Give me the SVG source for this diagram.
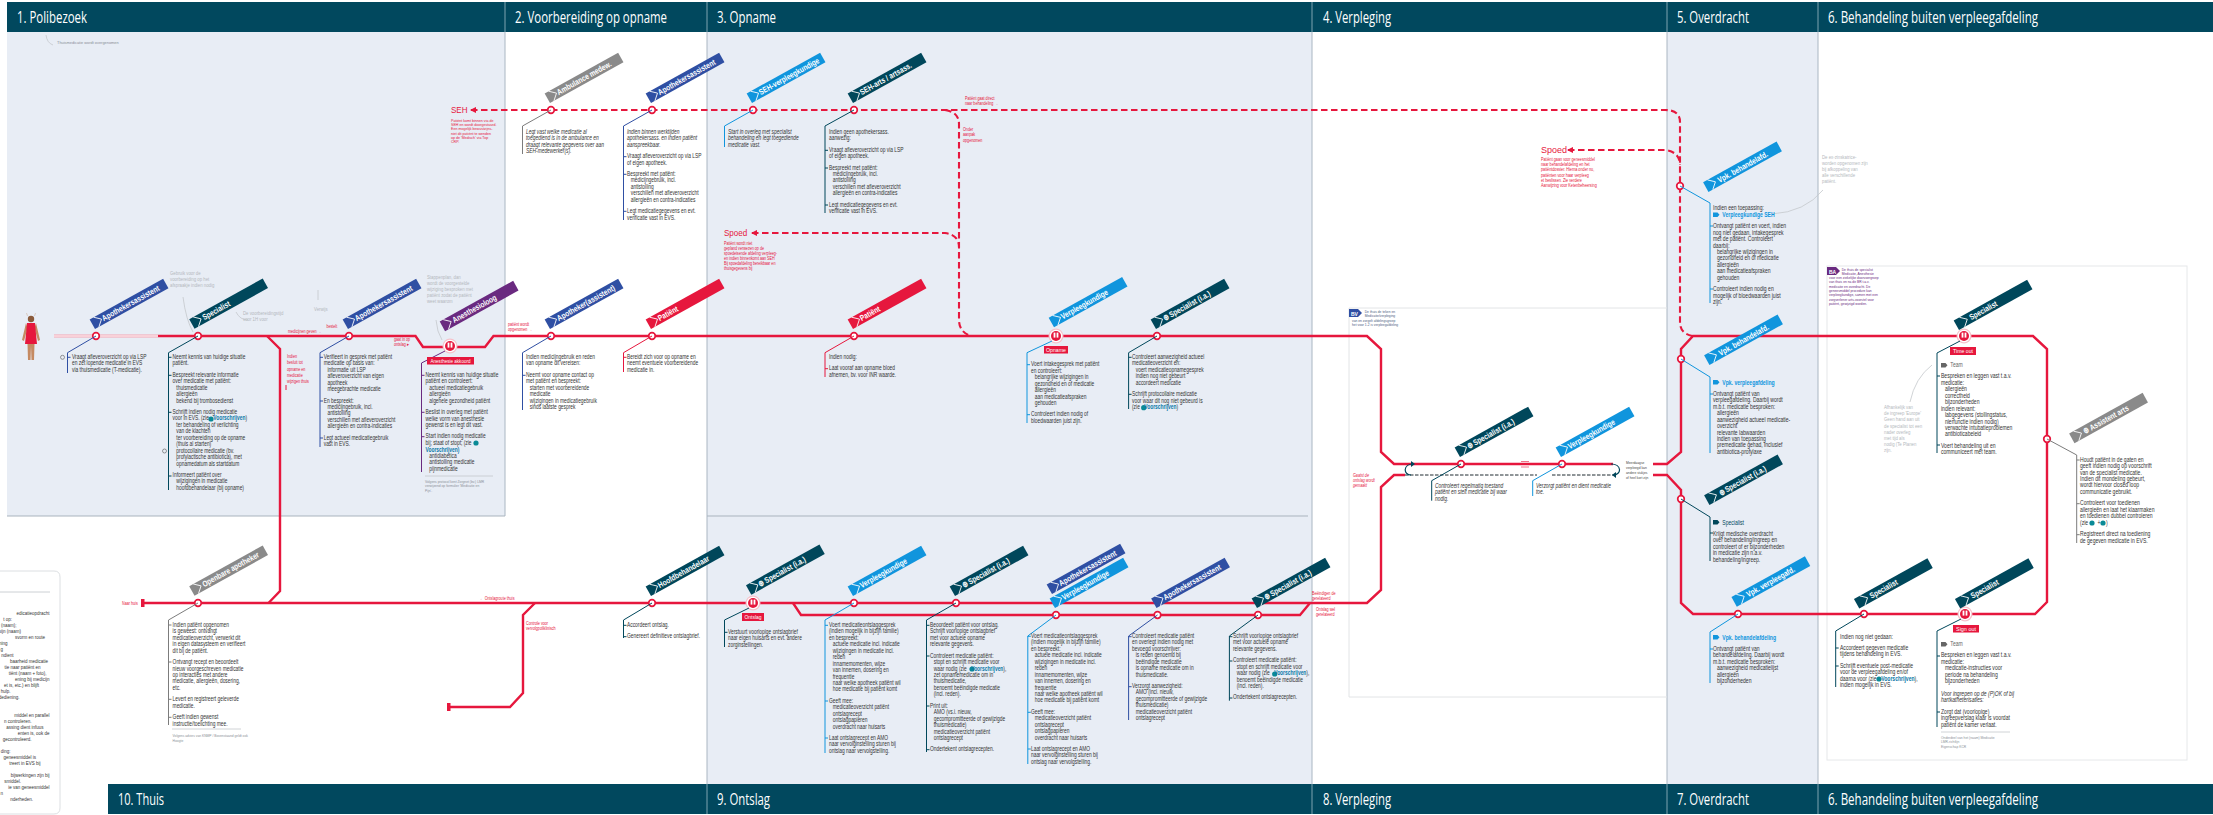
<svg xmlns="http://www.w3.org/2000/svg" width="2213" height="815" viewBox="0 0 2213 815">
<style>
text{font-family:"Liberation Sans",Arial,sans-serif}
.h{font-family:"Open Sans","Liberation Sans",sans-serif;font-size:15.5px;fill:#fff}
.t{font-size:6.5px;fill:#333}
.i{font-style:italic}
.vs{fill:#0b78a8;font-weight:bold}
.vb{fill:#0f95de;font-weight:bold}
.r{font-size:4.6px;fill:#e6173d}
.g{font-size:5.4px;fill:#b4b8bd}
.s{font-size:3.9px;fill:#8a8f96}
.k{font-size:3.9px;fill:#444}
.st{fill:#fff;stroke:#e6173d;stroke-width:1.7}
.l{fill:none;stroke:#e6173d;stroke-width:2.4}
.d{fill:none;stroke:#e6173d;stroke-width:2.1;stroke-dasharray:6.5 3.5}
.ld{fill:none;stroke-width:1}
.blue{stroke:#2f4fa3}.dark{stroke:#00475b}.nurse{stroke:#1095dd}.grey{stroke:#7c7c7c}.red{stroke:#e6173d}.pur{stroke:#6a2a80}
.fblue{fill:#2f4fa3}.fdark{fill:#00475b}.fnurse{fill:#1095dd}.fgrey{fill:#8a8a8a}.fred{fill:#e6173d}.fpur{fill:#6a2a80}
.bt{font-size:8.2px;font-weight:bold;fill:#fff;transform:translate(14px,-9.2px) scale(.8,1)}
.bo{transform:translate(36px,16.6px) scale(.8,1)}
.ch{fill:none;stroke:#fff;stroke-width:.8}
.lb{font-size:6.2px;fill:#fff;text-anchor:middle}
.ic{fill:#0a8a96}
.gl{fill:none;stroke:#c4c8cc;stroke-width:.8}
</style>
<defs>
<marker id="ar" viewBox="0 0 6 6" refX="1" refY="3" markerWidth="3" markerHeight="3" orient="auto"><path d="M0 3L6 0V6Z" fill="#e6173d"/></marker>
<g id="big"><circle r="7.5" fill="#f6c3cc"/><circle r="6.2" fill="#fff"/><circle r="5" fill="#e6173d"/><rect x="-2.4" y="-3.4" width="1.8" height="5" fill="#fff"/><rect x=".6" y="-3.4" width="1.8" height="5" fill="#fff"/></g>
<path id="chev" class="ch" d="M7-17.6L13-12.1L7-6.6"/>
<path id="chevo" class="ch" d="M27 8L33 13.5L27 19"/>
<path id="tag" d="M0 0H4.5L6.5 2.2L4.5 4.4H0Z"/>
</defs>

<g id="panels">
<rect x="7" y="32" width="498" height="484" fill="#e8edf5"/>
<rect x="707" y="32" width="605" height="752" fill="#e8edf5"/>
<rect x="1667" y="32" width="151" height="752" fill="#e8edf5"/>
<path d="M7 516H505M707 516H1308" stroke="#a9b3bd" fill="none"/>
<path d="M505 32V516M707 32V784M1312 32V784M1667 32V784M1818 32V784" stroke="#aab6c2" fill="none"/>
<path d="M1349 697V308H1667M1349 697H1667" fill="none" stroke="#e2e4e6"/>
<rect x="1827" y="266" width="360" height="494" fill="#fff" stroke="#e6e8ea"/>
</g>
<g id="header-top">
<rect x="7" y="2" width="2206" height="30" fill="#01485e"/>
<path d="M505 2V32M707 2V32M1312 2V32M1667 2V32M1818 2V32" stroke="#7ea3b0" fill="none"/>
<text class="h" x="17" y="23" textLength="70" lengthAdjust="spacingAndGlyphs">1. Polibezoek</text>
<text class="h" x="515" y="23" textLength="152" lengthAdjust="spacingAndGlyphs">2. Voorbereiding op opname</text>
<text class="h" x="717" y="23" textLength="59" lengthAdjust="spacingAndGlyphs">3. Opname</text>
<text class="h" x="1323" y="23" textLength="68" lengthAdjust="spacingAndGlyphs">4. Verpleging</text>
<text class="h" x="1677" y="23" textLength="72" lengthAdjust="spacingAndGlyphs">5. Overdracht</text>
<text class="h" x="1828" y="23" textLength="210" lengthAdjust="spacingAndGlyphs">6. Behandeling buiten verpleegafdeling</text>
</g>
<g id="header-bottom">
<rect x="108" y="784" width="2105" height="30" fill="#01485e"/>
<path d="M707 784V814M1312 784V814M1667 784V814M1818 784V814" stroke="#7ea3b0" fill="none"/>
<text class="h" x="118" y="805" textLength="46" lengthAdjust="spacingAndGlyphs">10. Thuis</text>
<text class="h" x="717" y="805" textLength="53" lengthAdjust="spacingAndGlyphs">9. Ontslag</text>
<text class="h" x="1323" y="805" textLength="68" lengthAdjust="spacingAndGlyphs">8. Verpleging</text>
<text class="h" x="1677" y="805" textLength="72" lengthAdjust="spacingAndGlyphs">7. Overdracht</text>
<text class="h" x="1828" y="805" textLength="210" lengthAdjust="spacingAndGlyphs">6. Behandeling buiten verpleegafdeling</text>
</g>

<g id="connectors">
<path d="M54 336H158" fill="none" stroke="#f3a3b2" stroke-width="3"/><path d="M54 336H158" fill="none" stroke="#fff" stroke-width="1"/>
<path class="l" d="M158 336H415.500L423 347H485L493.500 336H1367L1381 349V452L1394 464H1613"/>
<path class="l" d="M1653 464H1667L1681 452V349L1693 336H2033L2047 349V602L2035 614H1693L1681 603V490L1667 475H1653"/>
<path class="l" d="M1405 475H1394L1381 487V590L1367 603H144"/>
<path class="l" d="M793 603L801 615H1300L1310 603"/>
<path class="l" d="M535 603L523 615V693L510 707H449"/>
<path class="l" d="M267 336L280 349V591L268.500 603"/>
<path fill="#e6173d" d="M141 599h3.500v8h-3.500zM447 703h3.500v8h-3.500z"/>
<path class="d" marker-start="url(#ar)" d="M471 110H1665Q1680 110 1680 122V322Q1680 334 1693 336"/>
<path class="d" d="M945 110Q959 112 959 124V320Q959 332 971 336"/>
<path class="d" marker-start="url(#ar)" d="M752 233H945Q959 235 959 247"/>
<path class="d" marker-start="url(#ar)" d="M1568 150H1665Q1680 152 1680 165"/>
<path d="M1405 475H1537M1552 475H1613" fill="none" stroke="#1f2a30" stroke-width="1" stroke-dasharray="3.500 1.500"/>
<path d="M1413 464C1403 464 1403 475 1411 475M1611 464C1622 464 1622 475 1613 475" fill="none" stroke="#00475b" stroke-width="1.200"/>
<path fill="#00475b" d="M1411 461l4 3-4 3zM1616 472l-4 3 4 3z"/>
<path d="M1521 461.500h8M1521 467h8" stroke="#e6173d" stroke-width=".6" fill="none"/>
</g>

<g id="patient">
<circle cx="31" cy="319" r="3.200" fill="#8a5a3a"/>
<path d="M27.500 316l-1-3M34.500 316l1-3" stroke="#c9a48a" stroke-width=".5"/>
<path d="M26 323L22 340L24 341L27.500 328M36 323L40 340L38 341L34.500 328" fill="#c58a62"/>
<path d="M27 323H35L36 334L37 344H25L26 334Z" fill="#e6173d"/>
<path d="M27.500 344L28 360H30.500L31 346L31.500 360H34L34.500 344Z" fill="#c58a62"/>
</g>

<g id="legend">
<path d="M0 571H54Q60 571 60 577V808Q60 814 54 814H0" fill="#fff" stroke="#dcdfe2"/>
<path d="M0 592H50" stroke="#ccd0d4"/>
<text class="t" transform="translate(0 615) scale(.75 1)" style="font-size:6px" text-anchor="end"><tspan x="66" dy="0">edicatieopdracht</tspan><tspan x="16" dy="6">t op:</tspan><tspan x="22" dy="6">r (naam);</tspan><tspan x="28" dy="6">sijn (naam)</tspan><tspan x="60" dy="6">svorm en route</tspan><tspan x="10" dy="6">ning</tspan><tspan x="4" dy="6">g</tspan><tspan x="18" dy="6">ndient</tspan><tspan x="64" dy="6">baarheid medicatie</tspan><tspan x="54" dy="6">tie naar patiënt en</tspan><tspan x="62" dy="6">tiënt (naam + foto),</tspan><tspan x="66" dy="6">ening bij medicijn</tspan><tspan x="52" dy="6">et is, etc.) en blijft</tspan><tspan x="14" dy="6">hulp.</tspan><tspan x="26" dy="6">dediening.</tspan><tspan x="66" dy="18">middel en parallel</tspan><tspan x="42" dy="6">n controleren.</tspan><tspan x="58" dy="6">assing dient infuus</tspan><tspan x="66" dy="6">enten is, ook de</tspan><tspan x="42" dy="6">gecontroleerd.</tspan><tspan x="14" dy="12">ding:</tspan><tspan x="48" dy="6">geneesmiddel is</tspan><tspan x="54" dy="6">treert in EVS bij</tspan><tspan x="66" dy="12">bijwerkingen zijn bij</tspan><tspan x="28" dy="6">smiddel.</tspan><tspan x="66" dy="6">ie van geneesmiddel</tspan><tspan x="4" dy="6">n</tspan><tspan x="44" dy="6">nderheden.</tspan></text>
</g>

<g id="annotations">
<path class="gl" d="M46 35Q47 43 53 45"/>
<text class="s" x="57" y="44">Thuismedicatie wordt overgenomen</text>
<path class="gl" d="M183 297Q186 320 193 332M236 312Q240 320 248 320M318 290V300M436 320Q437 332 442 340M1772 214Q1805 212 1823 190M1910 402Q1915 378 1932 365"/>
<text class="g" transform="translate(170 275) scale(.8 1)"><tspan x="0">Gebruik voor de</tspan><tspan x="0" dy="6">voorbereiding op het</tspan><tspan x="0" dy="6">afspraakje indien nodig</tspan></text>
<text class="g" transform="translate(243 315) scale(.8 1)"><tspan x="0">De voorbereidingstijd</tspan><tspan x="0" dy="6">voor 1H voor</tspan></text>
<text class="g" transform="translate(314 311) scale(.8 1)">Verwijs</text>
<text class="g" transform="translate(427 279) scale(.8 1)"><tspan x="0">Stappenplan, dan</tspan><tspan x="0" dy="6">wordt de voorgestelde</tspan><tspan x="0" dy="6">wijziging besproken met</tspan><tspan x="0" dy="6">patiënt zodat de patiënt</tspan><tspan x="0" dy="6">weet waarom</tspan></text>
<text class="g" transform="translate(1822 159) scale(.8 1)"><tspan x="0">De ex-zinskatrice-</tspan><tspan x="0" dy="6">worden opgenomen zijn</tspan><tspan x="0" dy="6">bij afkoppeling van</tspan><tspan x="0" dy="6">alle verschillende</tspan><tspan x="0" dy="6">patiënt.</tspan></text>
<text class="g" transform="translate(1884 409) scale(.8 1)"><tspan x="0">Afhankelijk van</tspan><tspan x="0" dy="6.200">de ingreep 'Europe'</tspan><tspan x="0" dy="6.200">Geen hand aan uit</tspan><tspan x="0" dy="6.200">de specialist tot een</tspan><tspan x="0" dy="6.200">nader overleg</tspan><tspan x="0" dy="6.200">met tijd als</tspan><tspan x="0" dy="6.200">nodig (Te Planen</tspan><tspan x="0" dy="6.200">zijn.</tspan></text>
<text class="r" transform="translate(287 358) scale(.8 1)"><tspan x="0">Indien</tspan><tspan x="0" dy="6.300">besluit tot</tspan><tspan x="0" dy="6.300">opname en</tspan><tspan x="0" dy="6.300">medicatie</tspan><tspan x="0" dy="6.300">wijzigen thuis</tspan></text>
<path class="ld red" d="M286 385V390"/>
<text class="r" transform="translate(288 328) scale(.8 1)"><tspan x="48">bestelt</tspan><tspan x="0" dy="5">medicijnen geven →</tspan></text>
<text class="r" transform="translate(508 326) scale(.8 1)"><tspan x="0">patiënt wordt</tspan><tspan x="0" dy="5">opgenomen →</tspan></text>
<text class="r" transform="translate(394 341) scale(.8 1)"><tspan x="0">gaat in op</tspan><tspan x="0" dy="5">ontslag ▸</tspan></text>
<text class="r" transform="translate(965 100) scale(.8 1)"><tspan x="0">Patiënt gaat direct</tspan><tspan x="0" dy="5">naar behandeling →</tspan></text>
<text class="r" transform="translate(963 131) scale(.8 1)"><tspan x="0">Onder</tspan><tspan x="0" dy="5.500">aanpak</tspan><tspan x="0" dy="5.500">opgenomen</tspan></text>
<text class="r" transform="translate(122 605) scale(.8 1)">Naar huis</text>
<text class="r" transform="translate(480 600) scale(.8 1)">← Ontslagroute thuis</text>
<text class="r" transform="translate(526 625) scale(.8 1)"><tspan x="0">Controle voor</tspan><tspan x="0" dy="5.500">vervolgpoliklinisch</tspan></text>
<text class="r" transform="translate(1312 595) scale(.8 1)"><tspan x="0">Beëindigen de</tspan><tspan x="0" dy="5">gerelateerd</tspan></text>
<text class="r" transform="translate(1316 611) scale(.8 1)"><tspan x="0">Ontslag wel</tspan><tspan x="0" dy="5">gerelateerd</tspan></text>
<text class="r i" transform="translate(1353 477) scale(.8 1)"><tspan x="0">Gaatst de</tspan><tspan x="0" dy="5.200">ontslag wordt</tspan><tspan x="0" dy="5.200">gemaakt</tspan></text>
<text class="k" transform="translate(1626 464) scale(.85 1)"><tspan x="0">Meerdaagse</tspan><tspan x="0" dy="5">verpleegd kan</tspan><tspan x="0" dy="5">andere stukjes</tspan><tspan x="0" dy="5">of heel kort zijn</tspan></text>
<g id="tag-bv"><use href="#tag" class="fblue" transform="translate(1349 309) scale(2 1.800)"/><text x="1351" y="315.500" font-size="5" fill="#fff" font-weight="bold">BV</text>
<text class="k" transform="translate(1352 313) scale(.85 1)" style="fill:#4a5a80"><tspan x="15">De thuis de teken en</tspan><tspan x="15" dy="4.300">Medicatie/verpleging</tspan><tspan x="0" dy="4.300">van en zorgelt afdelingsgroep</tspan><tspan x="0" dy="4.300">het voor 1-2 is verpleegafdeling</tspan></text></g>
<g id="tag-ba"><use href="#tag" class="fpur" transform="translate(1827 267) scale(2 1.800)"/><text x="1829" y="273.500" font-size="5" fill="#fff" font-weight="bold">BA</text>
<text class="k" transform="translate(1829 270.500) scale(.85 1)" style="fill:#6a2a80"><tspan x="15">De thuis de specialist</tspan><tspan x="15" dy="4.300">Medicatie, Anesthesie</tspan><tspan x="0" dy="4.300">voor een ziekelijke doorvoergroep</tspan><tspan x="0" dy="4.300">van thuis en na de BR t.a.v.</tspan><tspan x="0" dy="4.300">medicatie en overdracht. De</tspan><tspan x="0" dy="4.300">geneesmiddel procedure kan</tspan><tspan x="0" dy="4.300">verpleegkundige, samen met een</tspan><tspan x="0" dy="4.300">zorgverlener arts-voorstel voor</tspan><tspan x="0" dy="4.300">patiënt, gewijzigd worden.</tspan></text></g>
<text font-size="9.500" fill="#e6173d" transform="translate(451 113) scale(.85 1)">SEH</text>
<text class="r" transform="translate(451 122) scale(.82 1)" style="font-size:4.400px"><tspan x="0">Patiënt komt binnen via de</tspan><tspan x="0" dy="4.200">SEH en wordt doorgestuurd.</tspan><tspan x="0" dy="4.200">Een mogelijk bewustzijns-</tspan><tspan x="0" dy="4.200">niet dit patiënt te wenden</tspan><tspan x="0" dy="4.200">op de 'Medisch' via Top</tspan><tspan x="0" dy="4.200">CRP.</tspan></text>
<text font-size="9.500" fill="#e6173d" transform="translate(724 236) scale(.85 1)">Spoed</text>
<text class="r" transform="translate(724 245) scale(.8 1)"><tspan x="0">Patiënt wordt niet</tspan><tspan x="0" dy="5">gepland verwezen op de</tspan><tspan x="0" dy="5">spoedeisende afdeling verpleeg-</tspan><tspan x="0" dy="5">en indien binnenkomt aan SEH</tspan><tspan x="0" dy="5">Bij spoedafdeling bereikbaar en</tspan><tspan x="0" dy="5">thuisgegevens bij</tspan></text>
<text font-size="9.500" fill="#e6173d" transform="translate(1541 153) scale(.95 1)">Spoed</text>
<text class="r" transform="translate(1541 161) scale(.82 1)"><tspan x="0">Patiënt gaan voor geneesmiddel</tspan><tspan x="0" dy="5.200">naar behandelafdeling en het</tspan><tspan x="0" dy="5.200">patiëntdossier. Hierna onder nu,</tspan><tspan x="0" dy="5.200">patiënten voor haar verpleeg</tspan><tspan x="0" dy="5.200">et beslissen. Zie verdere</tspan><tspan x="0" dy="5.200">Aanwijzing voor Ketenbeheersing</tspan></text>
</g>

<g id="n-ambulance"><circle class="st" cx="551" cy="110" r="3.300"/>
<path class="ld grey" d="M551 110L522.500 126V154"/>
<g transform="translate(551 110) rotate(-29)"><rect class="fgrey" x="2.500" y="-17.600" width="84" height="11"/><use href="#chev"/><text class="bt">Ambulance medew.</text></g>
<text class="t i" transform="translate(526 134) scale(.75 1)"><tspan x="0">Legt vast welke medicatie al</tspan><tspan x="0" dy="6.450">toegediend is in de ambulance en</tspan><tspan x="0" dy="6.450">draagt relevante gegevens over aan</tspan><tspan x="0" dy="6.450">SEH-medewerker(s).</tspan></text></g>

<g id="n-apo-seh"><circle class="st" cx="652" cy="110" r="3.300"/>
<path class="ld blue" d="M652 110L623.500 126V220M623.500 156.700h3M623.500 174.300h3M623.500 211.300h3"/>
<g transform="translate(652 110) rotate(-29)"><rect class="fblue" x="2.500" y="-17.600" width="84" height="11"/><use href="#chev"/><text class="bt">Apothekersassistent</text></g>
<text class="t" transform="translate(627 134) scale(.75 1)"><tspan class="i" x="0">Indien binnen werktijden</tspan><tspan class="i" x="0" dy="6.450">apothekersass. en indien patiënt</tspan><tspan class="i" x="0" dy="6.450">aanspreekbaar.</tspan><tspan x="0" dy="11.350">Vraagt afleveroverzicht op via LSP</tspan><tspan x="0" dy="6.450">of eigen apotheek.</tspan><tspan x="0" dy="11.350">Bespreekt met patiënt:</tspan><tspan x="5" dy="6.450">medicijngebruik, incl.</tspan><tspan x="5" dy="6.450">antistolling</tspan><tspan x="5" dy="6.450">verschillen met afleveroverzicht</tspan><tspan x="5" dy="6.450">allergieën en contra-indicaties</tspan><tspan x="0" dy="11.350">Legt medicatiegegevens en evt.</tspan><tspan x="0" dy="6.450">verificatie vast in EVS.</tspan></text></g>

<g id="n-seh-vpk"><circle class="st" cx="753" cy="110" r="3.300"/>
<path class="ld nurse" d="M753 110L724.500 126V147"/>
<g transform="translate(753 110) rotate(-29)"><rect class="fnurse" x="2.500" y="-17.600" width="84" height="11"/><use href="#chev"/><text class="bt">SEH-verpleegkundige</text></g>
<text class="t i" transform="translate(728 134) scale(.75 1)"><tspan x="0">Start in overleg met specialist</tspan><tspan x="0" dy="6.450">behandeling en legt toegediende</tspan><tspan x="0" dy="6.450">medicatie vast.</tspan></text></g>

<g id="n-seh-arts"><circle class="st" cx="854" cy="110" r="3.300"/>
<path class="ld dark" d="M854 110L825 126V213M825 150.300h3M825 168h3M825 205h3"/>
<g transform="translate(854 110) rotate(-29)"><rect class="fdark" x="2.500" y="-17.600" width="84" height="11"/><use href="#chev"/><text class="bt">SEH-arts / artsass.</text></g>
<text class="t" transform="translate(829 134) scale(.75 1)"><tspan x="0">Indien geen apothekersass.</tspan><tspan x="0" dy="6.450">aanwezig:</tspan><tspan x="0" dy="11.350">Vraagt afleveroverzicht op via LSP</tspan><tspan x="0" dy="6.450">of eigen apotheek.</tspan><tspan x="0" dy="11.350">Bespreekt met patiënt:</tspan><tspan x="5" dy="6.450">medicijngebruik, incl.</tspan><tspan x="5" dy="6.450">antistolling</tspan><tspan x="5" dy="6.450">verschillen met afleveroverzicht</tspan><tspan x="5" dy="6.450">allergieën en contra-indicaties</tspan><tspan x="0" dy="11.350">Legt medicatiegegevens en evt.</tspan><tspan x="0" dy="6.450">verificatie vast in EVS.</tspan></text></g>

<g id="n-apo1"><circle class="st" cx="96" cy="336" r="3.300"/>
<path class="ld blue" d="M96 336L67.500 352.700V373M67.500 357.300h3"/>
<circle cx="62.500" cy="357.300" r="2" fill="none" stroke="#555" stroke-width=".6"/>
<g transform="translate(96 336) rotate(-29)"><rect class="fblue" x="2.500" y="-17.600" width="84" height="11"/><use href="#chev"/><text class="bt">Apothekersassistent</text></g>
<text class="t" transform="translate(72 359) scale(.75 1)"><tspan x="0">Vraagt afleveroverzicht op via LSP</tspan><tspan x="0" dy="6.450">en zet lopende medicatie in EVS</tspan><tspan x="0" dy="6.450">via thuismedicatie (T-medicatie).</tspan></text></g>

<g id="n-spec1"><circle class="st" cx="198" cy="336" r="3.300"/>
<path class="ld dark" d="M198 336L168.500 352.700V490M168.500 357.300h3M168.500 375.300h3M168.500 412.300h3M168.500 476h3"/>
<circle cx="164.500" cy="451" r="2" fill="none" stroke="#555" stroke-width=".6"/>
<circle class="ic" cx="211" cy="419" r="2.600"/>
<g transform="translate(198 336) rotate(-29)"><rect class="fdark" x="0.500" y="-19" width="84" height="11"/><path class="ch" d="M5-19L11-13.500L5-8"/><text class="bt" style="transform:translate(13px,-10.800px) scale(.8,1)">Specialist</text></g>
<text class="t" transform="translate(172.600 359) scale(.75 1)"><tspan x="0">Neemt kennis van huidige situatie</tspan><tspan x="0" dy="6.450">patiënt.</tspan><tspan x="0" dy="11.350">Bespreekt relevante informatie</tspan><tspan x="0" dy="6.450">over medicatie met patiënt:</tspan><tspan x="5" dy="6.450">thuismedicatie</tspan><tspan x="5" dy="6.450">allergieën</tspan><tspan x="5" dy="6.450">bekend bij trombosedienst</tspan><tspan x="0" dy="11.350">Schrijft indien nodig medicatie</tspan><tspan x="0" dy="6.450">voor in EVS. (zie</tspan><tspan class="vs" dx="6">Voorschrijven</tspan><tspan>)</tspan><tspan x="5" dy="6.450">ter behandeling of verlichting</tspan><tspan x="5" dy="6.450">van de klachten</tspan><tspan x="5" dy="6.450">ter voorbereiding op de opname</tspan><tspan x="5" dy="6.450">(thuis al starten)</tspan><tspan x="5" dy="6.450">protocollaire medicatie (bv.</tspan><tspan x="5" dy="6.450">profylactische antibiotica), met</tspan><tspan x="5" dy="6.450">opnamedatum als startdatum</tspan><tspan x="0" dy="11.350">Informeert patiënt over</tspan><tspan x="5" dy="6.450">wijzigingen in medicatie</tspan><tspan x="5" dy="6.450">hoofdbehandelaar (bij opname)</tspan></text></g>

<g id="n-apo2"><circle class="st" cx="349" cy="336" r="3.300"/>
<path class="ld blue" d="M349 336L320 352.700V447M320 357.300h3M320 401h3M320 438h3"/>
<g transform="translate(349 336) rotate(-29)"><rect class="fblue" x="2.500" y="-17.600" width="84" height="11"/><use href="#chev"/><text class="bt">Apothekersassistent</text></g>
<text class="t" transform="translate(323.700 359) scale(.75 1)"><tspan x="0">Verifieert in gesprek met patiënt</tspan><tspan x="0" dy="6.450">medicatie op basis van:</tspan><tspan x="5" dy="6.450">informatie uit LSP</tspan><tspan x="5" dy="6.450">afleveroverzicht van eigen</tspan><tspan x="5" dy="6.450">apotheek</tspan><tspan x="5" dy="6.450">meegebrachte medicatie</tspan><tspan x="0" dy="11.350">En bespreekt:</tspan><tspan x="5" dy="6.450">medicijngebruik, incl.</tspan><tspan x="5" dy="6.450">antistolling</tspan><tspan x="5" dy="6.450">verschillen met afleveroverzicht</tspan><tspan x="5" dy="6.450">allergieën en contra-indicaties</tspan><tspan x="0" dy="11.350">Legt actueel medicatiegebruik</tspan><tspan x="0" dy="6.450">vast in EVS.</tspan></text></g>

<g id="n-anes"><use href="#big" x="450" y="346"/>
<path class="ld pur" d="M445 351L421.500 363V472M421.500 375.300h3M421.500 412.300h3M421.500 436.700h3"/>
<rect class="fred" x="427" y="357" width="47" height="7.500"/><text class="lb" x="450.500" y="363" textLength="40" lengthAdjust="spacingAndGlyphs">Anesthesie akkoord</text>
<circle class="ic" cx="476" cy="443" r="2.600"/>
<g transform="translate(450 336) rotate(-29)"><rect class="fpur" x="-2" y="-17.600" width="84" height="11"/><path class="ch" d="M2-17.600L8-12.100L2-6.600"/><text class="bt" style="transform:translate(10px,-9.200px) scale(.8,1)">Anesthesioloog</text></g>
<text class="t" transform="translate(425.600 377) scale(.75 1)"><tspan x="0">Neemt kennis van huidige situatie</tspan><tspan x="0" dy="6.450">patiënt en controleert:</tspan><tspan x="5" dy="6.450">actueel medicatiegebruik</tspan><tspan x="5" dy="6.450">allergieën</tspan><tspan x="5" dy="6.450">algehele gezondheid patiënt</tspan><tspan x="0" dy="11.350">Beslist in overleg met patiënt</tspan><tspan x="0" dy="6.450">welke vorm van anesthesie</tspan><tspan x="0" dy="6.450">gewenst is en legt dit vast.</tspan><tspan x="0" dy="11.350">Start indien nodig medicatie</tspan><tspan x="0" dy="6.450">bij; staat of stopt; (zie</tspan><tspan class="vs" x="0" dy="6.700">Voorschrijven)</tspan><tspan x="5" dy="6.450">antidiabetica</tspan><tspan x="5" dy="6.450">antistolling medicatie</tspan><tspan x="5" dy="6.450">pijnmedicatie</tspan></text>
<path class="gl" d="M425 476H493"/>
<text class="s" transform="translate(425 483) scale(.85 1)"><tspan x="0">Volgens protocol kent Zorgnet (bv.) LMR</tspan><tspan x="0" dy="4.500">verwijzend op formulier 'Medicatie en</tspan><tspan x="0" dy="4.500">Pijn'.</tspan></text></g>

<g id="n-apo3"><circle class="st" cx="551" cy="336" r="3.300"/>
<path class="ld blue" d="M551 336L522.500 352.700V410M522.500 375.300h3"/>
<g transform="translate(551 336) rotate(-29)"><rect class="fblue" x="2.500" y="-17.600" width="84" height="11"/><use href="#chev"/><text class="bt">Apotheker(assistent)</text></g>
<text class="t" transform="translate(526 359) scale(.75 1)"><tspan x="0">Indien medicijngebruik en reden</tspan><tspan x="0" dy="6.450">van opname dit vereisen:</tspan><tspan x="0" dy="11.350">Neemt voor opname contact op</tspan><tspan x="0" dy="6.450">met patiënt en bespreekt:</tspan><tspan x="5" dy="6.450">starten met voorbereidende</tspan><tspan x="5" dy="6.450">medicatie</tspan><tspan x="5" dy="6.450">wijzigingen in medicatiegebruik</tspan><tspan x="5" dy="6.450">sinds laatste gesprek</tspan></text></g>

<g id="n-pat1"><circle class="st" cx="652" cy="336" r="3.300"/>
<path class="ld red" d="M652 336L623.500 352.700V372M623.500 357.300h3"/>
<g transform="translate(652 336) rotate(-29)"><rect class="fred" x="2.500" y="-17.600" width="84" height="11"/><use href="#chev"/><text class="bt">Patiënt</text></g>
<text class="t" transform="translate(627 359) scale(.75 1)"><tspan x="0">Bereidt zich voor op opname en</tspan><tspan x="0" dy="6.450">neemt eventuele voorbereidende</tspan><tspan x="0" dy="6.450">medicatie in.</tspan></text></g>

<g id="n-pat2"><circle class="st" cx="854" cy="336" r="3.300"/>
<path class="ld red" d="M854 336L825 352.700V377M825 368.700h3"/>
<g transform="translate(854 336) rotate(-29)"><rect class="fred" x="2.500" y="-17.600" width="84" height="11"/><use href="#chev"/><text class="bt">Patiënt</text></g>
<text class="t" transform="translate(829 359) scale(.75 1)"><tspan x="0">Indien nodig:</tspan><tspan x="0" dy="11.350">Laat vooraf aan opname bloed</tspan><tspan x="0" dy="6.450">afnemen, bv. voor INR waarde.</tspan></text></g>

<g id="n-vpk1"><use href="#big" x="1056" y="336"/>
<path class="ld nurse" d="M1052 341L1027 352.700V423M1027 364.700h3M1027 414.700h3"/>
<rect class="fred" x="1044" y="346" width="24" height="7.500"/><text class="lb" x="1056" y="352" textLength="20" lengthAdjust="spacingAndGlyphs">Opname</text>
<g transform="translate(1056 336) rotate(-29)"><rect class="fnurse" x="2.500" y="-19.600" width="84" height="11"/><path class="ch" d="M7-19.600L13-14.100L7-8.600"/><text class="bt" style="transform:translate(14px,-11.200px) scale(.8,1)">Verpleegkundige</text></g>
<text class="t" transform="translate(1031 366.300) scale(.75 1)"><tspan x="0">Voert intakegesprek met patiënt</tspan><tspan x="0" dy="6.450">en controleert:</tspan><tspan x="5" dy="6.450">belangrijke wijzigingen in</tspan><tspan x="5" dy="6.450">gezondheid en of medicatie</tspan><tspan x="5" dy="6.450">allergieën</tspan><tspan x="5" dy="6.450">aan medicatieafspraken</tspan><tspan x="5" dy="6.450">gehouden</tspan><tspan x="0" dy="11.350">Controleert indien nodig of</tspan><tspan x="0" dy="6.450">bloedwaarden juist zijn.</tspan></text></g>

<g id="n-spec2"><circle class="st" cx="1157" cy="336" r="3.300"/>
<path class="ld dark" d="M1157 336L1128.600 352.700V409M1128.600 357.300h3M1128.600 394.300h3"/>
<circle class="ic" cx="1143.700" cy="407.700" r="2.600"/>
<g transform="translate(1157 336) rotate(-29)"><rect class="fdark" x="2.500" y="-17.600" width="84" height="11"/><use href="#chev"/><text class="bt">⊕ Specialist (i.a.)</text></g>
<text class="t" transform="translate(1132 359) scale(.75 1)"><tspan x="0">Controleert aanwezigheid actueel</tspan><tspan x="0" dy="6.450">medicatieoverzicht en:</tspan><tspan x="5" dy="6.450">voert medicatieopnamegesprek</tspan><tspan x="5" dy="6.450">indien nog niet gebeurt</tspan><tspan x="5" dy="6.450">accordeert medicatie</tspan><tspan x="0" dy="11.350">Schrijft protocollaire medicatie</tspan><tspan x="0" dy="6.450">voor waar dit nog niet gebeurd is</tspan><tspan x="0" dy="6.450">(zie</tspan><tspan class="vs" dx="6">Voorschrijven</tspan><tspan>)</tspan></text></g>

<g id="n-spec3"><circle class="st" cx="1461" cy="464" r="3.300"/>
<path class="ld dark" d="M1461 464L1431.700 480.700V500.700"/>
<g transform="translate(1461 464) rotate(-29)"><rect class="fdark" x="2.500" y="-17.600" width="84" height="11"/><use href="#chev"/><text class="bt">⊕ Specialist (i.a.)</text></g>
<text class="t i" transform="translate(1435 488) scale(.75 1)"><tspan x="0">Controleert regelmatig toestand</tspan><tspan x="0" dy="6.450">patiënt en stelt medicatie bij waar</tspan><tspan x="0" dy="6.450">nodig.</tspan></text></g>
<g id="n-vpk2"><circle class="st" cx="1562" cy="464" r="3.300"/>
<path class="ld nurse" d="M1562 464L1532.700 480.700V496"/>
<g transform="translate(1562 464) rotate(-29)"><rect class="fnurse" x="2.500" y="-17.600" width="84" height="11"/><use href="#chev"/><text class="bt">Verpleegkundige</text></g>
<text class="t i" transform="translate(1536 488) scale(.75 1)"><tspan x="0">Verzorgt patiënt en dient medicatie</tspan><tspan x="0" dy="6.450">toe.</tspan></text></g>

<g id="n-vb1"><circle class="st" cx="1680" cy="186" r="3.300"/>
<path class="ld nurse" d="M1680 186L1710 203V303M1710 226h3M1710 289h3"/>
<g transform="translate(1680 186) rotate(-29)"><rect class="fnurse" x="22" y="8" width="84" height="11"/><use href="#chevo"/><text class="bt bo">Vpk. behandelafd.</text></g>
<use href="#tag" class="fnurse" transform="translate(1713 212.500)"/>
<text class="t" transform="translate(1713 210) scale(.78 1)"><tspan x="0">Indien een toepassing:</tspan><tspan class="vb" x="12" dy="6.800">Verpleegkundige SEH</tspan><tspan x="0" dy="11.400">Ontvangt patiënt en voert, indien</tspan><tspan x="0" dy="6.450">nog niet gedaan, intakegesprek</tspan><tspan x="0" dy="6.450">met de patiënt. Controleert</tspan><tspan x="0" dy="6.450">daarbij:</tspan><tspan x="5" dy="6.450">belangrijke wijzigingen in</tspan><tspan x="5" dy="6.450">gezondheid en of medicatie</tspan><tspan x="5" dy="6.450">allergieën</tspan><tspan x="5" dy="6.450">aan medicatieafspraken</tspan><tspan x="5" dy="6.450">gehouden</tspan><tspan x="0" dy="11.350">Controleert indien nodig en</tspan><tspan x="0" dy="6.450">mogelijk of bloedwaarden juist</tspan><tspan x="0" dy="6.450">zijn.</tspan></text></g>

<g id="n-vb2"><circle class="st" cx="1681" cy="359" r="3.300"/>
<path class="ld nurse" d="M1681 359L1710 377V453M1710 394h3"/>
<g transform="translate(1681 359) rotate(-29)"><rect class="fnurse" x="22" y="8" width="84" height="11"/><use href="#chevo"/><text class="bt bo">Vpk. behandelafd.</text></g>
<use href="#tag" class="fnurse" transform="translate(1713 380)"/>
<text class="t" transform="translate(1713 384.500) scale(.78 1)"><tspan class="vb" x="12">Vpk. verpleegafdeling</tspan><tspan x="0" dy="11.400">Ontvangt patiënt van</tspan><tspan x="0" dy="6.450">verpleegafdeling. Daarbij wordt</tspan><tspan x="0" dy="6.450">m.b.t. medicatie besproken:</tspan><tspan x="5" dy="6.450">allergieën</tspan><tspan x="5" dy="6.450">aanwezigheid actueel medicatie-</tspan><tspan x="5" dy="6.450">overzicht</tspan><tspan x="5" dy="6.450">relevante labwaarden</tspan><tspan x="5" dy="6.450">indien van toepassing</tspan><tspan x="5" dy="6.450">premedicatie gehad, inclusief</tspan><tspan x="5" dy="6.450">antibiotica-profylaxe</tspan></text></g>

<g id="n-spec4"><circle class="st" cx="1681" cy="499" r="3.300"/>
<path class="ld dark" d="M1681 499L1710 517V561M1710 533h3"/>
<g transform="translate(1681 499) rotate(-29)"><rect class="fdark" x="22" y="8" width="84" height="11"/><use href="#chevo"/><text class="bt bo">⊕ Specialist (i.a.)</text></g>
<use href="#tag" class="fdark" transform="translate(1713 520)"/>
<text class="t" transform="translate(1713 524.500) scale(.78 1)"><tspan fill="#00475b" x="12">Specialist</tspan><tspan x="0" dy="11.400">Krijgt medische overdracht</tspan><tspan x="0" dy="6.450">over behandeling/ingreep en</tspan><tspan x="0" dy="6.450">controleert of er bijzonderheden</tspan><tspan x="0" dy="6.450">in medicatie zijn n.a.v.</tspan><tspan x="0" dy="6.450">behandeling/ingreep.</tspan></text></g>

<g id="n-vb3"><circle class="st" cx="1738" cy="614" r="3.300"/>
<path class="ld nurse" d="M1738 614L1710 632V683M1710 649h3"/>
<g transform="translate(1738 614) rotate(-29)"><rect class="fnurse" x="2.500" y="-18" width="84" height="11"/><path class="ch" d="M8-18L14-12.500L8-7"/><text class="bt" style="transform:translate(17px,-9.600px) scale(.8,1)">Vpk. verpleegafd.</text></g>
<use href="#tag" class="fnurse" transform="translate(1713 635)"/>
<text class="t" transform="translate(1713 639.500) scale(.78 1)"><tspan class="vb" x="12">Vpk. behandelafdeling</tspan><tspan x="0" dy="11.400">Ontvangt patiënt van</tspan><tspan x="0" dy="6.450">behandelafdeling. Daarbij wordt</tspan><tspan x="0" dy="6.450">m.b.t. medicatie besproken:</tspan><tspan x="5" dy="6.450">aanwezigheid medicatielijst</tspan><tspan x="5" dy="6.450">allergieën</tspan><tspan x="5" dy="6.450">bijzonderheden</tspan></text></g>

<g id="n-timeout"><use href="#big" x="1964" y="336"/>
<path class="ld dark" d="M1960 341L1937 353V453M1937 376h3M1937 445h3"/>
<rect class="fred" x="1950" y="347" width="26" height="8"/><text class="lb" x="1963" y="353.300" textLength="20" lengthAdjust="spacingAndGlyphs">Time out</text>
<g transform="translate(1964 336) rotate(-29)"><rect class="fdark" x="-1.500" y="-18.600" width="84" height="11"/><path class="ch" d="M5-18.600L11-13.100L5-7.600"/><text class="bt" style="transform:translate(14px,-10.200px) scale(.8,1)">Specialist</text></g>
<use href="#tag" fill="#666" transform="translate(1941 363)"/>
<text class="t" transform="translate(1941 367) scale(.78 1)"><tspan fill="#666" x="12">Team</tspan><tspan x="0" dy="11.400">Bespreken en leggen vast t.a.v.</tspan><tspan x="0" dy="6.450">medicatie:</tspan><tspan x="5" dy="6.450">allergieën</tspan><tspan x="5" dy="6.450">correctheid</tspan><tspan x="5" dy="6.450">bijzonderheden</tspan><tspan x="0" dy="6.450">indien relevant:</tspan><tspan x="5" dy="6.450">labgegevens (stollingstatus,</tspan><tspan x="5" dy="6.450">nierfunctie indien nodig)</tspan><tspan x="5" dy="6.450">verwachte intubatieproblemen</tspan><tspan x="5" dy="6.450">antibioticabeleid</tspan><tspan x="0" dy="11.350">Voert behandeling uit en</tspan><tspan x="0" dy="6.450">communiceert met team.</tspan></text></g>

<g id="n-assist"><circle class="st" cx="2047" cy="439" r="3.300"/>
<path class="ld grey" d="M2047 439L2076.700 455V543M2076.700 460h3M2076.700 503.700h3M2076.700 534.700h3"/>
<circle class="ic" cx="2092" cy="523" r="2.600"/><circle class="ic" cx="2103" cy="523" r="2.600"/>
<g transform="translate(2047 439) rotate(-29)"><rect class="fgrey" x="22" y="6" width="84" height="11"/><path class="ch" d="M27 6L33 11.500L27 17"/><text class="bt" style="transform:translate(36px,14.400px) scale(.8,1)">⊕ Assistent arts</text></g>
<text class="t" transform="translate(2080 461.700) scale(.78 1)"><tspan x="0">Houdt patiënt in de gaten en</tspan><tspan x="0" dy="6.450">geeft indien nodig op voorschrift</tspan><tspan x="0" dy="6.450">van de specialist medicatie.</tspan><tspan x="0" dy="6.450">Indien dit mondeling gebeurt,</tspan><tspan x="0" dy="6.450">wordt hiervoor closed loop</tspan><tspan x="0" dy="6.450">communicatie gebruikt.</tspan><tspan x="0" dy="11.350">Controleert voor toedienen</tspan><tspan x="0" dy="6.450">allergieën en laat het klaarmaken</tspan><tspan x="0" dy="6.450">en toedienen dubbel controleren</tspan><tspan x="0" dy="6.800">(zie</tspan><tspan dx="12">+</tspan><tspan dx="7">)</tspan><tspan x="0" dy="11.350">Registreert direct na toediening</tspan><tspan x="0" dy="6.450">de gegeven medicatie in EVS.</tspan></text></g>

<g id="n-spec5"><circle class="st" cx="1864" cy="614" r="3.300"/>
<path class="ld dark" d="M1864 614L1835.700 631V687M1835.700 648h3M1835.700 666h3"/>
<circle class="ic" cx="1879" cy="679" r="2.600"/>
<g transform="translate(1864 614) rotate(-29)"><rect class="fdark" x="-1.500" y="-18" width="84" height="11"/><path class="ch" d="M5-18L11-12.500L5-7"/><text class="bt" style="transform:translate(14px,-9.600px) scale(.8,1)">Specialist</text></g>
<text class="t" transform="translate(1840 638.700) scale(.78 1)"><tspan x="0">Indien nog niet gedaan:</tspan><tspan x="0" dy="11.350">Accordeert gegeven medicatie</tspan><tspan x="0" dy="6.450">tijdens behandeling in EVS.</tspan><tspan x="0" dy="11.350">Schrijft eventuele post-medicatie</tspan><tspan x="0" dy="6.450">voor de verpleegafdeling en/of</tspan><tspan x="0" dy="6.450">daarna voor (zie</tspan><tspan class="vs" dx="6">Voorschrijven</tspan><tspan>),</tspan><tspan x="0" dy="6.450">indien mogelijk in EVS.</tspan></text></g>

<g id="n-signout"><use href="#big" x="1965" y="614"/>
<path class="ld dark" d="M1961 619L1937 631V727M1937 656h3M1937 712h3"/>
<rect class="fred" x="1953" y="625" width="26" height="7.500"/><text class="lb" x="1966" y="631" textLength="20" lengthAdjust="spacingAndGlyphs">Sign out</text>
<g transform="translate(1965 614) rotate(-29)"><rect class="fdark" x="-1.500" y="-18" width="84" height="11"/><path class="ch" d="M5-18L11-12.500L5-7"/><text class="bt" style="transform:translate(14px,-9.600px) scale(.8,1)">Specialist</text></g>
<use href="#tag" fill="#666" transform="translate(1941 642)"/>
<text class="t" transform="translate(1941 646) scale(.78 1)"><tspan fill="#666" x="12">Team</tspan><tspan x="0" dy="11.400">Bespreken en leggen vast t.a.v.</tspan><tspan x="0" dy="6.450">medicatie:</tspan><tspan x="5" dy="6.450">medicatie-instructies voor</tspan><tspan x="5" dy="6.450">periode na behandeling</tspan><tspan x="5" dy="6.450">bijzonderheden</tspan><tspan class="i" x="0" dy="12.700">Voor ingrepen op de (P)OK of bij</tspan><tspan class="i" x="0" dy="6.450">hartkatheterisaties:</tspan><tspan x="0" dy="11.350">Zorgt dat (voorlopige)</tspan><tspan x="0" dy="6.450">ingreepverslag klaar is voordat</tspan><tspan x="0" dy="6.450">patiënt de kamer verlaat.</tspan></text>
<path class="gl" d="M1941 732H2010"/>
<text class="s" transform="translate(1941 738.500) scale(.85 1)"><tspan x="0">Onderdeel van het (naam) Medicatie</tspan><tspan x="0" dy="5">LMR-richtlijn</tspan><tspan x="0" dy="5">Eigenschap KCR</tspan></text></g>

<g id="n-openbaar"><circle class="st" cx="198" cy="603" r="3.300"/>
<path class="ld grey" d="M198 603L168.500 620V725M168.500 625h3M168.500 662h3M168.500 699.300h3M168.500 717.300h3"/>
<g transform="translate(198 603) rotate(-29)"><rect class="fgrey" x="0.500" y="-19" width="84" height="11"/><path class="ch" d="M5-19L11-13.500L5-8"/><text class="bt" style="transform:translate(13px,-10.800px) scale(.8,1)">Openbare apotheker</text></g>
<text class="t" transform="translate(172.600 627) scale(.75 1)"><tspan x="0">Indien patiënt opgenomen</tspan><tspan x="0" dy="6.450">is geweest: ontvangt</tspan><tspan x="0" dy="6.450">medicatieoverzicht, verwerkt dit</tspan><tspan x="0" dy="6.450">in eigen datasysteem en verifieert</tspan><tspan x="0" dy="6.450">dit bij de patiënt.</tspan><tspan x="0" dy="11.350">Ontvangt recept en beoordeelt</tspan><tspan x="0" dy="6.450">nieuw voorgeschreven medicatie</tspan><tspan x="0" dy="6.450">op interacties met andere</tspan><tspan x="0" dy="6.450">medicatie, allergieën, dosering,</tspan><tspan x="0" dy="6.450">etc.</tspan><tspan x="0" dy="11.350">Levert en registreert geleverde</tspan><tspan x="0" dy="6.450">medicatie.</tspan><tspan x="0" dy="11.350">Geeft indien gewenst</tspan><tspan x="0" dy="6.450">instructie/toelichting mee.</tspan></text>
<path class="gl" d="M172 729H241"/>
<text class="s" transform="translate(172.600 737) scale(.85 1)"><tspan x="0">Volgens advies van KNMP / Bovenstaand geldt ook</tspan><tspan x="0" dy="4.700">Hoogte</tspan></text></g>

<g id="n-hoofd"><circle class="st" cx="652" cy="603" r="3.300"/>
<path class="ld dark" d="M652 603L623.500 620V638M623.500 625.300h3M623.500 636.700h3"/>
<g transform="translate(652 603) rotate(-29)"><rect class="fdark" x="2.500" y="-17.600" width="84" height="11"/><use href="#chev"/><text class="bt">Hoofdbehandelaar</text></g>
<text class="t" transform="translate(627 627) scale(.75 1)"><tspan x="0">Accordeert ontslag.</tspan><tspan x="0" dy="11.350">Genereert definitieve ontslagbrief.</tspan></text></g>

<g id="n-ontslag"><use href="#big" x="753" y="603"/>
<path class="ld dark" d="M749 608L724.500 620V647M724.500 632.300h3"/>
<rect class="fred" x="742" y="613" width="22" height="8"/><text class="lb" x="753" y="619.300" textLength="17" lengthAdjust="spacingAndGlyphs">Ontslag</text>
<g transform="translate(753 603) rotate(-29)"><rect class="fdark" x="2.500" y="-19" width="84" height="11"/><path class="ch" d="M7-19L13-13.500L7-8"/><text class="bt" style="transform:translate(14px,-10.600px) scale(.8,1)">⊕ Specialist (i.a.)</text></g>
<text class="t" transform="translate(728 634) scale(.75 1)"><tspan x="0">Verstuurt voorlopige ontslagbrief</tspan><tspan x="0" dy="6.450">naar eigen huisarts en evt. andere</tspan><tspan x="0" dy="6.450">zorginstellingen.</tspan></text></g>

<g id="n-vpk3"><circle class="st" cx="854" cy="603" r="3.300"/>
<path class="ld nurse" d="M854 603L825 620V753M825 625.300h3M825 701h3M825 738h3"/>
<g transform="translate(854 603) rotate(-29)"><rect class="fnurse" x="2.500" y="-17.600" width="84" height="11"/><use href="#chev"/><text class="bt">Verpleegkundige</text></g>
<text class="t" transform="translate(829 627) scale(.75 1)"><tspan x="0">Voert medicatieontslaggesprek</tspan><tspan x="0" dy="6.450">(indien mogelijk in bijzijn familie)</tspan><tspan x="0" dy="6.450">en bespreekt:</tspan><tspan x="5" dy="6.450">actuele medicatie incl. indicatie</tspan><tspan x="5" dy="6.450">wijzigingen in medicatie incl.</tspan><tspan x="5" dy="6.450">reden</tspan><tspan x="5" dy="6.450">innamemomenten, wijze</tspan><tspan x="5" dy="6.450">van innemen, dosering en</tspan><tspan x="5" dy="6.450">frequentie</tspan><tspan x="5" dy="6.450">naar welke apotheek patiënt wil</tspan><tspan x="5" dy="6.450">hoe medicatie bij patiënt komt</tspan><tspan x="0" dy="11.350">Geeft mee:</tspan><tspan x="5" dy="6.450">medicatieoverzicht patiënt</tspan><tspan x="5" dy="6.450">ontslagrecept</tspan><tspan x="5" dy="6.450">ontslagpapieren</tspan><tspan x="5" dy="6.450">overdracht naar huisarts</tspan><tspan x="0" dy="11.350">Laat ontslagrecept en AMO</tspan><tspan x="0" dy="6.450">naar vervolginstelling sturen bij</tspan><tspan x="0" dy="6.450">ontslag naar vervolgstelling.</tspan></text></g>

<g id="n-spec6"><circle class="st" cx="956" cy="603" r="3.300"/>
<path class="ld dark" d="M956 603L926.500 620V752M926.500 625.300h3M926.500 656h3M926.500 706h3M926.500 749.700h3"/>
<circle class="ic" cx="972" cy="669" r="2.600"/>
<g transform="translate(956 603) rotate(-29)"><rect class="fdark" x="2.500" y="-17.600" width="84" height="11"/><use href="#chev"/><text class="bt">⊕ Specialist (i.a.)</text></g>
<text class="t" transform="translate(930 627) scale(.75 1)"><tspan x="0">Beoordeelt patiënt voor ontslag.</tspan><tspan x="0" dy="6.450">Schrijft voorlopige ontslagbrief</tspan><tspan x="0" dy="6.450">met voor actuele opname</tspan><tspan x="0" dy="6.450">relevante gegevens.</tspan><tspan x="0" dy="11.350">Controleert medicatie patiënt:</tspan><tspan x="5" dy="6.450">stopt en schrijft medicatie voor</tspan><tspan x="5" dy="6.450">waar nodig (zie</tspan><tspan class="vs" dx="6">Voorschrijven</tspan><tspan>),</tspan><tspan x="5" dy="6.450">zet opnamemedicatie om in</tspan><tspan x="5" dy="6.450">thuismedicatie,</tspan><tspan x="5" dy="6.450">benoemt beëindigde medicatie</tspan><tspan x="5" dy="6.450">(incl. reden).</tspan><tspan x="0" dy="11.350">Print uit:</tspan><tspan x="5" dy="6.450">AMO (vs.i. nieuw,</tspan><tspan x="5" dy="6.450">gecompromitteerde of gewijzigde</tspan><tspan x="5" dy="6.450">thuismedicatie)</tspan><tspan x="5" dy="6.450">medicatieoverzicht patiënt</tspan><tspan x="5" dy="6.450">ontslagrecept</tspan><tspan x="0" dy="11.350">Ondertekent ontslagrecepten.</tspan></text></g>

<g id="n-apo-vpk"><circle class="st" cx="1056" cy="603" r="2.500" style="stroke:#888"/><circle class="st" cx="1056" cy="615" r="3.300"/>
<path class="ld nurse" d="M1056 615L1027.800 636V764M1027.800 636.300h3M1027.800 712.300h3M1027.800 749h3"/>
<g transform="translate(1053 601) rotate(-29)"><rect class="fblue" x="2.500" y="-17.600" width="84" height="11"/><use href="#chev"/><text class="bt">Apothekersassistent</text></g>
<g transform="translate(1056 615) rotate(-29)"><rect class="fnurse" x="2.500" y="-17.600" width="84" height="11"/><use href="#chev"/><text class="bt">Verpleegkundige</text></g>
<text class="t" transform="translate(1031 638) scale(.75 1)"><tspan x="0">Voert medicatieontslaggesprek</tspan><tspan x="0" dy="6.450">(indien mogelijk in bijzijn familie)</tspan><tspan x="0" dy="6.450">en bespreekt:</tspan><tspan x="5" dy="6.450">actuele medicatie incl. indicatie</tspan><tspan x="5" dy="6.450">wijzigingen in medicatie incl.</tspan><tspan x="5" dy="6.450">reden</tspan><tspan x="5" dy="6.450">innamemomenten, wijze</tspan><tspan x="5" dy="6.450">van innemen, dosering en</tspan><tspan x="5" dy="6.450">frequentie</tspan><tspan x="5" dy="6.450">naar welke apotheek patiënt wil</tspan><tspan x="5" dy="6.450">hoe medicatie bij patiënt komt</tspan><tspan x="0" dy="11.350">Geeft mee:</tspan><tspan x="5" dy="6.450">medicatieoverzicht patiënt</tspan><tspan x="5" dy="6.450">ontslagrecept</tspan><tspan x="5" dy="6.450">ontslagpapieren</tspan><tspan x="5" dy="6.450">overdracht naar huisarts</tspan><tspan x="0" dy="11.350">Laat ontslagrecept en AMO</tspan><tspan x="0" dy="6.450">naar vervolginstelling sturen bij</tspan><tspan x="0" dy="6.450">ontslag naar vervolgstelling.</tspan></text></g>

<g id="n-apo4"><circle class="st" cx="1157.500" cy="615" r="3.300"/>
<path class="ld blue" d="M1157.500 615L1128.600 636V720M1128.600 636.700h3M1128.600 686.700h3"/>
<g transform="translate(1157.500 615) rotate(-29)"><rect class="fblue" x="2.500" y="-17.600" width="84" height="11"/><use href="#chev"/><text class="bt">Apothekersassistent</text></g>
<text class="t" transform="translate(1132 638) scale(.75 1)"><tspan x="0">Controleert medicatie patiënt</tspan><tspan x="0" dy="6.450">en overlegt indien nodig met</tspan><tspan x="0" dy="6.450">bevoegd voorschrijver:</tspan><tspan x="5" dy="6.450">is reden genoemd bij</tspan><tspan x="5" dy="6.450">beëindigde medicatie</tspan><tspan x="5" dy="6.450">is opname medicatie om in</tspan><tspan x="5" dy="6.450">thuismedicatie.</tspan><tspan x="0" dy="11.350">Verzorgt aanwezigheid:</tspan><tspan x="5" dy="6.450">AMO (incl. nieuw,</tspan><tspan x="5" dy="6.450">gecompromitteerde of gewijzigde</tspan><tspan x="5" dy="6.450">thuismedicatie)</tspan><tspan x="5" dy="6.450">medicatieoverzicht patiënt</tspan><tspan x="5" dy="6.450">ontslagrecept</tspan></text></g>

<g id="n-spec7"><circle class="st" cx="1258" cy="615" r="3.300"/>
<path class="ld dark" d="M1258 615L1229.400 636V700.700M1229.400 636.700h3M1229.400 661h3M1229.400 698h3"/>
<circle class="ic" cx="1274.700" cy="674" r="2.600"/>
<g transform="translate(1258 615) rotate(-29)"><rect class="fdark" x="2.500" y="-17.600" width="84" height="11"/><use href="#chev"/><text class="bt">⊕ Specialist (i.a.)</text></g>
<text class="t" transform="translate(1233 638) scale(.75 1)"><tspan x="0">Schrijft voorlopige ontslagbrief</tspan><tspan x="0" dy="6.450">met voor actuele opname</tspan><tspan x="0" dy="6.450">relevante gegevens.</tspan><tspan x="0" dy="11.350">Controleert medicatie patiënt:</tspan><tspan x="5" dy="6.450">stopt en schrijft medicatie voor</tspan><tspan x="5" dy="6.450">waar nodig (zie</tspan><tspan class="vs" dx="6">Voorschrijven</tspan><tspan>),</tspan><tspan x="5" dy="6.450">benoemt beëindigde medicatie</tspan><tspan x="5" dy="6.450">(incl. reden).</tspan><tspan x="0" dy="11.350">Ondertekent ontslagrecepten.</tspan></text></g>
</svg>
